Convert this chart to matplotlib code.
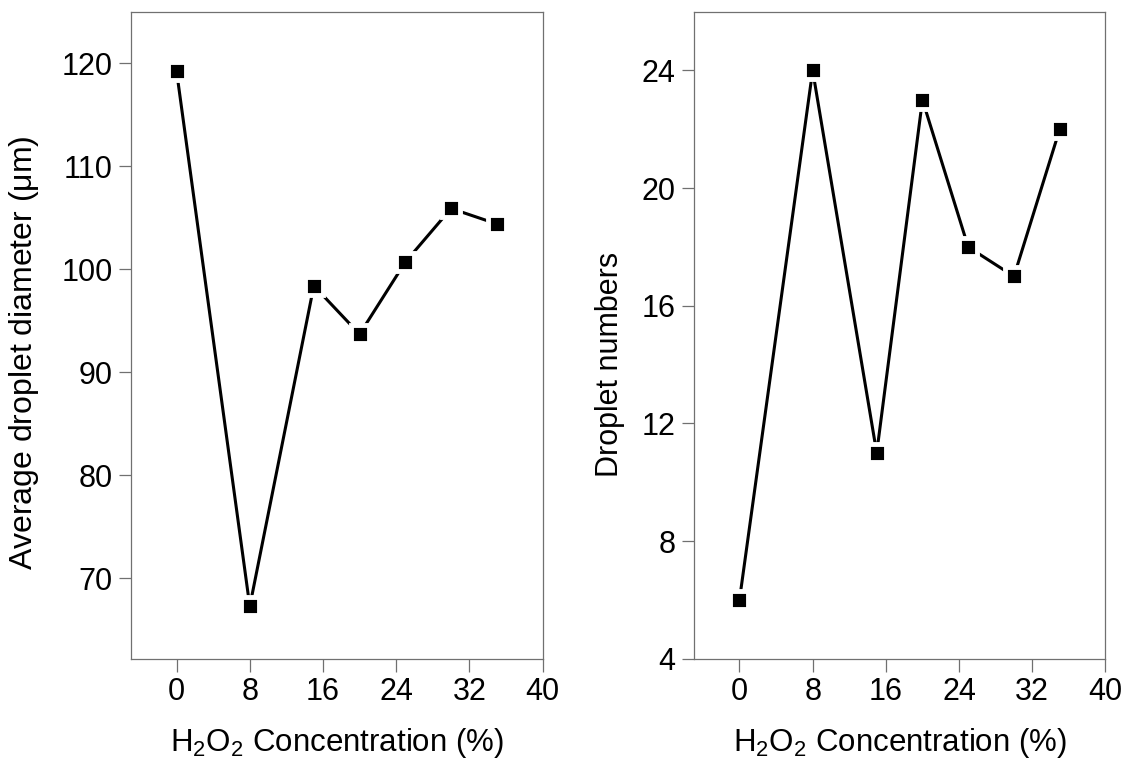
import matplotlib
matplotlib.use("Agg")
import matplotlib.pyplot as plt

# Data
conc = [0, 8, 15, 20, 25, 30, 35]
diameter = [119.2, 67.3, 98.4, 93.7, 100.7, 105.9, 104.4]
numbers = [6, 24, 11, 23, 18, 17, 22]

x_ticks = [0, 8, 16, 24, 32, 40]
diam_ticks = [70, 80, 90, 100, 110, 120]
num_ticks = [4, 8, 12, 16, 20, 24]

plt.rcParams['font.family'] = ['Liberation Sans', 'DejaVu Sans']
plt.rcParams['mathtext.fontset'] = 'custom'
plt.rcParams['mathtext.rm'] = 'Liberation Sans'

fig = plt.figure(figsize=(11.28, 7.76), dpi=100)
ax1 = fig.add_axes([0.116, 0.151, 0.365, 0.834])
ax2 = fig.add_axes([0.615, 0.151, 0.365, 0.834])

spine_col = '#707070'


def style(ax):
    for s in ax.spines.values():
        s.set_color(spine_col)
        s.set_linewidth(0.9)
    ax.tick_params(direction='out', length=9, width=0.9, color=spine_col,
                   labelsize=22, labelcolor='black', pad=4)
    ax.tick_params(top=False, right=False)


def draw(ax, x, y):
    ax.plot(x, y, color='black', lw=2.2, zorder=2)
    ax.plot(x, y, ls='none', marker='s', ms=12.5, mfc='black',
            mec='white', mew=3.5, zorder=3)


xlabel = r'H$_2$O$_2$ Concentration (%)'

draw(ax1, conc, diameter)
ax1.set_xlim(-5, 40)
ax1.set_ylim(62.2, 125)
ax1.set_xticks(x_ticks)
ax1.set_yticks(diam_ticks)
ax1.set_ylabel(r'Average droplet diameter ($\mathrm{\mu}$m)', fontsize=23)
ax1.yaxis.set_label_coords(-0.218, 0.473)
ax1.set_xlabel(xlabel, fontsize=22.5, labelpad=14)
style(ax1)

draw(ax2, conc, numbers)
ax2.set_xlim(-5, 40)
ax2.set_ylim(4, 26)
ax2.set_xticks(x_ticks)
ax2.set_yticks(num_ticks)
ax2.set_ylabel('Droplet numbers', fontsize=22)
ax2.yaxis.set_label_coords(-0.167, 0.455)
ax2.set_xlabel(xlabel, fontsize=22.5, labelpad=14)
style(ax2)

fig.savefig('out.png', dpi=100)
